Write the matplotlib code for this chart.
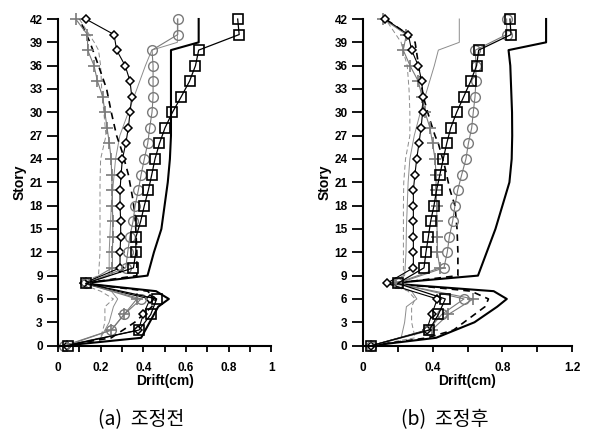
import matplotlib.pyplot as plt

plt.rcParams['font.family'] = ['Liberation Sans', 'DejaVu Sans']

# marker stories (every 2nd story)
story_mk = [0, 2, 4, 6, 8, 10, 12, 14, 16, 18, 20, 22, 24, 26, 28, 30, 32, 34, 36, 38, 40, 42]
# stories for the plain lines
story_ln = [0, 1, 3, 5, 6, 7, 8, 9, 12, 15, 18, 21, 24, 27, 30, 33, 36, 38, 39, 42]

# (a) before adjustment
sq_a = [0.045, 0.38, 0.435, 0.463, 0.13, 0.354, 0.365, 0.366, 0.388, 0.405, 0.424,
        0.44, 0.455, 0.476, 0.502, 0.537, 0.578, 0.617, 0.645, 0.66, 0.85, 0.843]
ci_a = [0.03, 0.25, 0.31, 0.39, 0.13, 0.318, 0.327, 0.337, 0.352, 0.362, 0.377,
        0.39, 0.405, 0.421, 0.43, 0.441, 0.446, 0.446, 0.446, 0.441, 0.562, 0.562]
di_a = [0.04, 0.377, 0.40, 0.432, 0.12, 0.291, 0.291, 0.294, 0.294, 0.291, 0.291,
        0.296, 0.302, 0.318, 0.33, 0.338, 0.346, 0.338, 0.315, 0.275, 0.263, 0.13]
pl_a = [0.04, 0.25, 0.31, 0.37, 0.13, 0.255, 0.255, 0.257, 0.257, 0.255, 0.255,
        0.252, 0.249, 0.241, 0.23, 0.22, 0.21, 0.185, 0.169, 0.139, 0.138, 0.083]
env_a = [0.03, 0.39, 0.43, 0.47, 0.52, 0.46, 0.12, 0.42, 0.45, 0.485, 0.50,
         0.515, 0.525, 0.53, 0.53, 0.53, 0.53, 0.53, 0.66, 0.66]
gs_a = [0.03, 0.2, 0.24, 0.26, 0.28, 0.25, 0.12, 0.24, 0.24, 0.245, 0.25,
        0.26, 0.27, 0.29, 0.33, 0.37, 0.41, 0.44, 0.56, 0.56]
gd_a = [0.03, 0.2, 0.22, 0.22, 0.26, 0.2, 0.1, 0.19, 0.197, 0.197, 0.197,
        0.197, 0.2, 0.225, 0.215, 0.205, 0.2, 0.19, 0.17, 0.10]
bd_story_a = [0, 1, 3, 5, 6, 7, 8, 9, 12, 15, 17, 19, 22, 25, 27, 30, 33, 36, 39, 42]
bd_a = [0.03, 0.25, 0.36, 0.44, 0.46, 0.42, 0.12, 0.37, 0.37, 0.365, 0.36,
        0.35, 0.33, 0.30, 0.275, 0.25, 0.228, 0.19, 0.15, 0.10]

# (b) after adjustment
sq_b = [0.05, 0.381, 0.433, 0.473, 0.2, 0.351, 0.362, 0.376, 0.389, 0.408, 0.423,
        0.442, 0.461, 0.481, 0.504, 0.538, 0.578, 0.618, 0.652, 0.664, 0.849, 0.843]
ci_b = [0.05, 0.376, 0.452, 0.58, 0.2, 0.465, 0.484, 0.496, 0.515, 0.528, 0.544,
        0.567, 0.591, 0.605, 0.624, 0.633, 0.643, 0.648, 0.648, 0.645, 0.824, 0.824]
di_b = [0.05, 0.366, 0.395, 0.427, 0.137, 0.29, 0.29, 0.29, 0.29, 0.29, 0.29,
        0.299, 0.309, 0.322, 0.334, 0.343, 0.345, 0.338, 0.318, 0.28, 0.261, 0.128]
pl_b = [0.05, 0.395, 0.49, 0.633, 0.19, 0.442, 0.427, 0.427, 0.424, 0.424, 0.42,
        0.42, 0.414, 0.40, 0.385, 0.357, 0.34, 0.318, 0.271, 0.232, 0.25, 0.118]
env_b = [0.05, 0.42, 0.64, 0.77, 0.825, 0.75, 0.15, 0.66, 0.71, 0.76, 0.80,
         0.84, 0.853, 0.856, 0.855, 0.85, 0.845, 0.835, 1.05, 1.05]
gs_b = [0.05, 0.22, 0.24, 0.25, 0.31, 0.28, 0.15, 0.24, 0.248, 0.25, 0.255,
        0.26, 0.27, 0.295, 0.33, 0.37, 0.41, 0.433, 0.553, 0.553]
gd_b = [0.05, 0.30, 0.28, 0.28, 0.30, 0.26, 0.14, 0.233, 0.233, 0.233, 0.233,
        0.235, 0.245, 0.27, 0.27, 0.265, 0.255, 0.23, 0.22, 0.13]
bd_story_b = [0, 1, 2, 5, 6, 7, 8, 9, 12, 15, 18, 20, 23, 26, 27, 29, 32, 36, 39, 40, 42]
bd_b = [0.05, 0.37, 0.52, 0.70, 0.72, 0.62, 0.18, 0.545, 0.545, 0.54, 0.528,
        0.50, 0.47, 0.433, 0.414, 0.385, 0.347, 0.32, 0.30, 0.26, 0.13]

panels = [
    dict(sq=sq_a, ci=ci_a, di=di_a, pl=pl_a, env=env_a, gs=gs_a, gd=gd_a,
         bd_story=bd_story_a, bd=bd_a, xmax=1.0, minor=0.1, major=0.2,
         caption="(a)  조정전"),
    dict(sq=sq_b, ci=ci_b, di=di_b, pl=pl_b, env=env_b, gs=gs_b, gd=gd_b,
         bd_story=bd_story_b, bd=bd_b, xmax=1.2, minor=0.2, major=0.4,
         caption="(b)  조정후"),
]

fig = plt.figure(figsize=(5.92, 4.32), dpi=100)
rects = [[0.098, 0.2, 0.360, 0.756], [0.6127, 0.2, 0.354, 0.756]]
gray = "#7a7a7a"

for rect, p in zip(rects, panels):
    ax = fig.add_axes(rect)

    # plain lines
    ax.plot(p["gd"], story_ln, color="#8c8c8c", lw=0.7, ls=(0, (5, 3)), clip_on=False)
    ax.plot(p["gs"], story_ln, color="#8c8c8c", lw=0.7, clip_on=False)
    ax.plot(p["bd"], p["bd_story"], color="black", lw=1.2, ls=(0, (4, 3)), clip_on=False)
    ax.plot(p["env"], story_ln, color="black", lw=1.5, clip_on=False)

    # marker series
    ax.plot(p["pl"], story_mk, color=gray, lw=0.8, marker="+", ms=8.5, mew=1.2,
            clip_on=False)
    ax.plot(p["di"], story_mk, color="black", lw=0.8, marker="D", ms=4.3, mew=1.1,
            mfc="white", clip_on=False)
    ax.plot(p["ci"], story_mk, color=gray, lw=0.8, marker="o", ms=7, mew=1.0,
            mfc="none", clip_on=False)
    ax.plot(p["sq"], story_mk, color="black", lw=0.9, marker="s", ms=6.5, mew=1.2,
            mfc="none", clip_on=False)

    ax.set_xlim(0, p["xmax"])
    ax.set_ylim(0, 42)
    n_minor = int(round(p["xmax"] / p["minor"]))
    ax.set_xticks([i * p["minor"] for i in range(n_minor + 1)])
    step = int(round(p["major"] / p["minor"]))
    ax.set_xticklabels([f"{i * p['minor']:g}" if i % step == 0 else ""
                        for i in range(n_minor + 1)])
    ax.set_yticks(range(0, 43, 3))

    for s in ["top", "right"]:
        ax.spines[s].set_visible(False)
    for s in ["left", "bottom"]:
        ax.spines[s].set_linewidth(1.5)
    ax.tick_params(axis="y", direction="out", length=8, width=1.3, pad=3, labelsize=8.5)
    ax.tick_params(axis="x", direction="out", length=4, width=1.3, pad=8, labelsize=8.5)
    for lab in ax.get_xticklabels() + ax.get_yticklabels():
        lab.set_fontweight("bold")

    ax.set_xlabel("Drift(cm)", fontsize=10, fontweight="bold", labelpad=0)
    ax.set_ylabel("Story", fontsize=10, fontweight="bold", labelpad=2)

    cx = rect[0] + rect[2] * 0.39
    fig.text(cx, 0.028, p["caption"], ha="center", va="center", fontsize=14,
             family=["Noto Sans CJK KR", "DejaVu Sans"])

fig.savefig("out.png", dpi=100)
